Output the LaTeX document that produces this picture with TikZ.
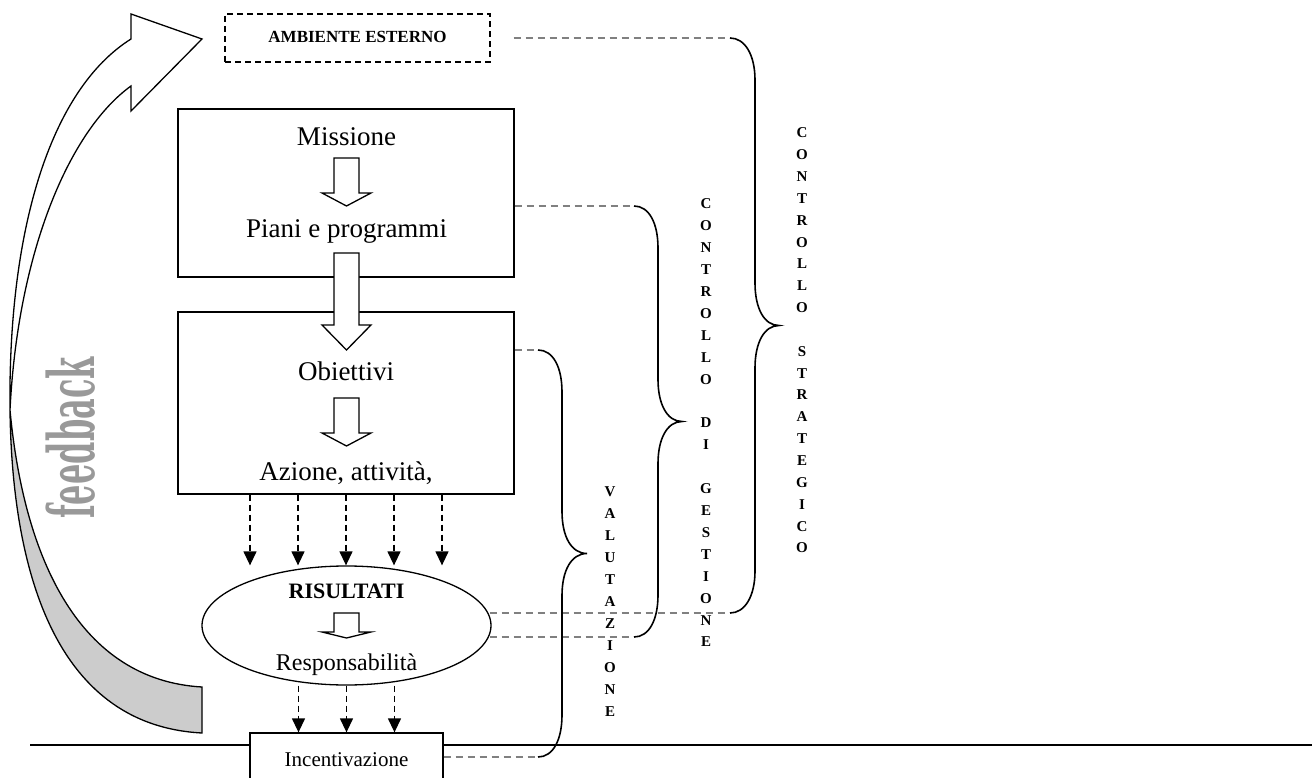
\documentclass[tikz,border=0pt]{standalone}
\usepackage{fontspec}
\setmainfont{Liberation Serif}
\newfontfamily\fbfont{DejaVu Serif}
\usetikzlibrary{arrows.meta,shapes.geometric}
\tikzset{
  boxstyle/.style={draw=black,line width=1.3pt,fill=white,rectangle,inner sep=0pt},
  ambstyle/.style={draw=black,line width=1.3pt,dash pattern=on 6pt off 4pt,rectangle,inner sep=0pt},
  ellstyle/.style={draw=black,line width=1.3pt,fill=white,ellipse,inner sep=0pt},
  bigtxt/.style={anchor=base,inner sep=0pt,font=\fontsize{27}{30}\selectfont},
  hollow/.style={draw=black,line width=1.3pt,fill=white,line join=miter},
  darr/.style={draw=black,line width=1.3pt,dash pattern=on 6pt off 4pt,-{Triangle[length=14pt,width=13pt]}},
  gdash/.style={draw=gray,line width=1.4pt,dash pattern=on 7pt off 5pt},
  bracestyle/.style={draw=black,line width=1.6pt},
  vlet/.style={inner sep=0pt,font=\bfseries\fontsize{15}{17}\selectfont},
}
\newcommand{\blockarr}[4]{%
  \draw[hollow] ({#1-12.5},#2) -- ({#1+12.5},#2) -- ({#1+12.5},#3) -- ({#1+24.5},#3)
    -- (#1,#4) -- ({#1-24.5},#3) -- ({#1-12.5},#3) -- cycle;}
\begin{document}
\begin{tikzpicture}[x=1pt,y=-1pt]
\useasboundingbox (0,0) rectangle (1312,778);
\clip (0,0) rectangle (1312,778);

% feedback arrow
\draw[line width=1.3pt,fill=white,line join=miter]
  (131,39) .. controls (50,90) and (8,230) .. (10,410)
  .. controls (18,250) and (70,130) .. (131,86)
  -- (131,111) -- (202,39) -- (131,14) -- cycle;
\draw[line width=1.3pt,fill=gray!40]
  (10,410) .. controls (12,560) and (50,725) .. (202,733)
  -- (202,687) .. controls (80,680) and (24,560) .. (10,410) -- cycle;
\node[inner sep=0pt,text=gray!80,font=\fbfont\bfseries\fontsize{64}{70}\selectfont,rotate=90] (fb) at (71,438) {\scalebox{0.5}[1]{feedback}};

% base line
\coordinate (hl1) at (30,745);
\coordinate (hl2) at (1312,745);
\draw[line width=2pt] (hl1) -- (hl2);

% nodes
\node[ambstyle,minimum width=265pt,minimum height=48pt] (amb) at (357.5,38) {};
\node[inner sep=0pt,anchor=base,font=\bfseries\fontsize{17}{20}\selectfont] (ambt) at (357.5,43) {AMBIENTE ESTERNO};

\node[boxstyle,minimum width=336pt,minimum height=168pt] (b1) at (346,193) {};
\node[boxstyle,minimum width=336pt,minimum height=182pt] (b2) at (346,403) {};
\node[ellstyle,minimum width=289pt,minimum height=119pt] (ell) at (346.5,625.5) {};
\node[boxstyle,minimum width=193pt,minimum height=57pt] (inc) at (346.5,761.5) {};

\node[bigtxt] (t1) at (346.5,146) {Missione};
\node[bigtxt] (t2) at (346.5,238) {Piani e programmi};
\node[bigtxt] (t3) at (346,380) {Obiettivi};
\node[bigtxt] (t4) at (346,480) {Azione, attività,};
\node[anchor=base,inner sep=0pt,font=\bfseries\fontsize{22}{24}\selectfont] (t5) at (346.5,598) {RISULTATI};
\node[anchor=base,inner sep=0pt,font=\fontsize{24}{26}\selectfont] (t6) at (346.5,670) {Responsabilità};
\node[anchor=base,inner sep=0pt,font=\fontsize{21}{24}\selectfont] (t7) at (346.5,766) {Incentivazione};

% hollow block arrows
\blockarr{346.5}{158}{193}{206}
\blockarr{346.5}{253}{325}{350}
\blockarr{346.5}{398}{433}{446}
\blockarr{346.5}{613}{632}{638}

% dashed arrows
\foreach \dx in {-96,-48,0,48,96}
  \draw[darr] ([xshift=\dx pt]b2.south) -- ([xshift=\dx pt]b2.south |- ell.north);
\foreach \dx in {-48,0,48}
  \draw[darr] ([xshift=\dx pt]ell.south) -- ([xshift=\dx pt]inc.north);

% brace end points
\coordinate (bS1) at (730,38);
\coordinate (bS2) at (730,613);
\coordinate (bG1) at (634,206);
\coordinate (bG2) at (634,637);
\coordinate (bV1) at (538,350);
\coordinate (bV2) at (538,757);

% grey dashed connectors
\draw[gdash] ([xshift=23pt]amb.east) -- (bS1);
\draw[gdash] (b1.east |- bG1) -- (bG1);
\draw[gdash] (b2.east |- bV1) -- (bV1);
\draw[gdash] ([xshift=-2pt]ell.east |- bS2) -- (bS2);
\draw[gdash] ([xshift=-2pt]ell.east |- bG2) -- (bG2);
\draw[gdash] (inc.east |- bV2) -- (bV2);

% braces
\draw[bracestyle] (bS1) .. controls (745,38) and (755,55) .. (755,80) -- (755,283)
  .. controls (755,308) and (764,325.5) .. (779,325.5)
  .. controls (764,325.5) and (755,343) .. (755,368) -- (755,571)
  .. controls (755,596) and (745,613) .. (bS2);
\draw[bracestyle] (bG1) .. controls (649,206) and (658,223) .. (658,248) -- (658,379.5)
  .. controls (658,404) and (667,421.5) .. (682,421.5)
  .. controls (667,421.5) and (658,439) .. (658,463.5) -- (658,595)
  .. controls (658,620) and (649,637) .. (bG2);
\draw[bracestyle] (bV1) .. controls (553,350) and (562,367) .. (562,392) -- (562,511.5)
  .. controls (562,536) and (571,553.5) .. (587,553.5)
  .. controls (571,553.5) and (562,571) .. (562,595.5) -- (562,715)
  .. controls (562,740) and (553,757) .. (bV2);

% vertical labels
\foreach [count=\i from 0] \c in {C,O,N,T,R,O,L,L,O,{},S,T,R,A,T,E,G,I,C,O}
  \node[vlet] (cs\i) at (802,{133+21.84*\i}) {\c};
\foreach [count=\i from 0] \c in {C,O,N,T,R,O,L,L,O,{},D,I,{},G,E,S,T,I,O,N,E}
  \node[vlet] (cg\i) at (706,{204+21.9*\i}) {\c};
\foreach [count=\i from 0] \c in {V,A,L,U,T,A,Z,I,O,N,E}
  \node[vlet] (cv\i) at (610,{492+22*\i}) {\c};
\end{tikzpicture}
\end{document}
